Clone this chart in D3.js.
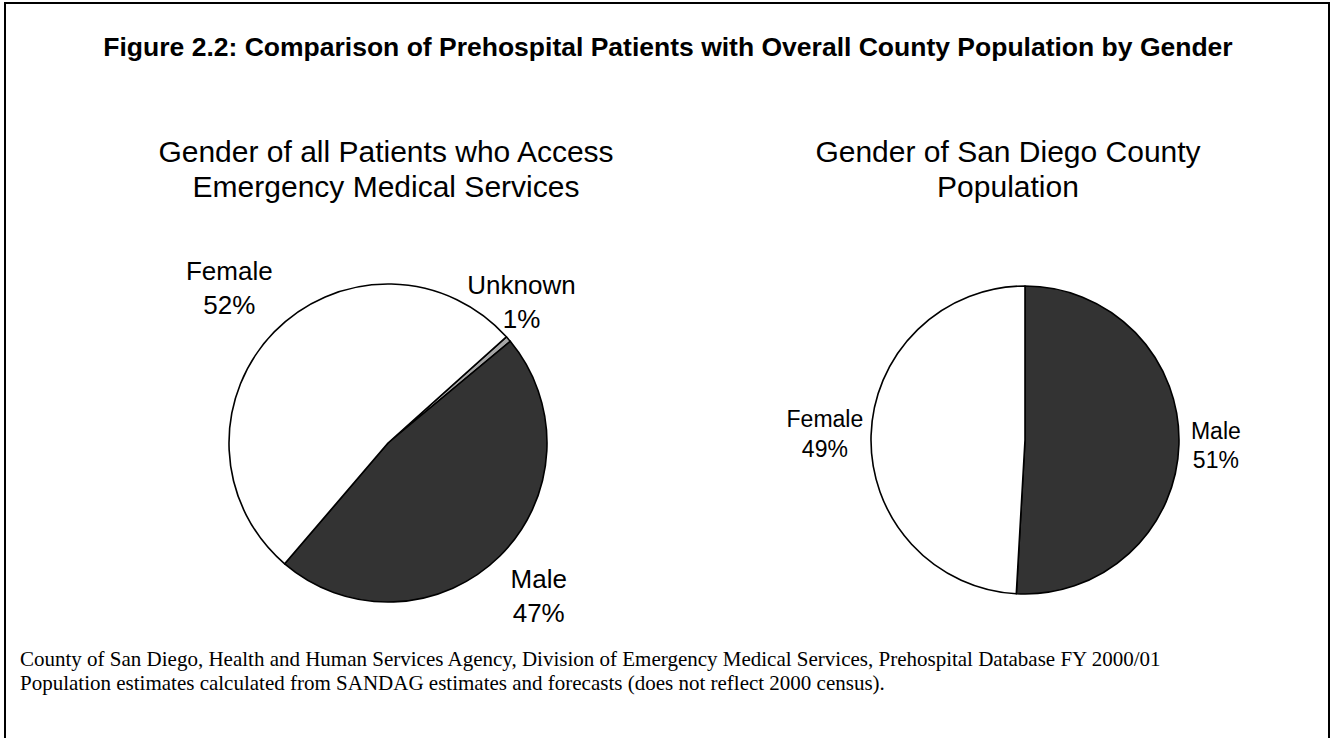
<!DOCTYPE html>
<html>
<head>
<meta charset="utf-8">
<script src="https://cdn.jsdelivr.net/npm/d3@7"></script>
<style>
  html, body { margin: 0; padding: 0; background: #fff; }
  svg { display: block; }
  .title { font-family: "Liberation Sans", Arial, sans-serif; font-weight: bold; font-size: 26.5px; }
  .subtitle { font-family: "Liberation Sans", Arial, sans-serif; font-size: 30px; }
  .slice-label { font-family: "Liberation Sans", Arial, sans-serif; }
  .note { font-family: "Liberation Serif", "Times New Roman", serif; font-size: 21px; }
</style>
</head>
<body>
<svg id="chart" width="1336" height="738"></svg>
<script>
// data
const patientCategories = ["Unknown", "Male", "Female"];
const patientValues = [0.6, 47.3, 52.1];

const countyCategories = ["Male", "Female"];
const countyValues = [50.9, 49.1];

const titleText = "Figure 2.2: Comparison of Prehospital Patients with Overall County Population by Gender";
const patientTitle = ["Gender of all Patients who Access", "Emergency Medical Services"];
const countyTitle = ["Gender of San Diego County", "Population"];
const notes = [
  "County of San Diego, Health and Human Services Agency, Division of Emergency Medical Services, Prehospital Database FY 2000/01",
  "Population estimates calculated from SANDAG estimates and forecasts (does not reflect 2000 census)."
];

const fillFor = { Female: "#ffffff", Male: "#333333", Unknown: "#a6a6a6" };

const svg = d3.select("#chart");
const width = +svg.attr("width");

// outer frame (bottom edge runs off the page)
svg.append("rect")
  .attr("x", 5).attr("y", 3)
  .attr("width", 1324).attr("height", 760)
  .attr("fill", "none")
  .attr("stroke", "#000")
  .attr("stroke-width", 2);

svg.append("text")
  .attr("class", "title")
  .attr("x", width / 2)
  .attr("y", 56)
  .attr("text-anchor", "middle")
  .text(titleText);

drawPie({
  cx: 388, cy: 443, r: 159,
  title: patientTitle, titleX: 386,
  categories: patientCategories, values: patientValues,
  startDeg: 48.1, fontSize: 26,
  labelK: { Unknown: 1.22, Male: 1.35, Female: 1.395 },
  labelTurn: { Unknown: -5.7 }
});

drawPie({
  cx: 1025, cy: 440, r: 154,
  title: countyTitle, titleX: 1008,
  categories: countyCategories, values: countyValues,
  startDeg: 0, fontSize: 23,
  labelK: { Male: 1.24, Female: 1.30 },
  labelTurn: {}
});

svg.append("g")
  .selectAll("text")
  .data(notes)
  .join("text")
  .attr("class", "note")
  .attr("x", 20)
  .attr("y", (d, i) => 666 + i * 24)
  .text(d => d);

function drawPie(cfg) {
  const data = cfg.categories.map((c, i) => ({ category: c, value: cfg.values[i] }));
  const start = cfg.startDeg * Math.PI / 180;

  const pie = d3.pie()
    .sort(null)
    .value(d => d.value)
    .startAngle(start)
    .endAngle(start + 2 * Math.PI);

  const arc = d3.arc().innerRadius(0).outerRadius(cfg.r);

  svg.append("g")
    .selectAll("text")
    .data(cfg.title)
    .join("text")
    .attr("class", "subtitle")
    .attr("x", cfg.titleX)
    .attr("y", (d, i) => 162 + i * 35)
    .attr("text-anchor", "middle")
    .text(d => d);

  const g = svg.append("g")
    .attr("transform", `translate(${cfg.cx},${cfg.cy})`);

  const arcs = pie(data);

  g.selectAll("path")
    .data(arcs)
    .join("path")
    .attr("d", arc)
    .attr("fill", d => fillFor[d.data.category])
    .attr("stroke", "#000")
    .attr("stroke-width", 1.6)
    .attr("stroke-linejoin", "round");

  const label = g.selectAll("text")
    .data(arcs)
    .join("text")
    .attr("class", "slice-label")
    .attr("text-anchor", "middle")
    .style("font-size", cfg.fontSize + "px")
    .attr("transform", d => {
      const k = cfg.r * cfg.labelK[d.data.category];
      const turn = (cfg.labelTurn[d.data.category] || 0) * Math.PI / 180;
      const a = (d.startAngle + d.endAngle) / 2 + turn;
      return `translate(${k * Math.sin(a)},${-k * Math.cos(a)})`;
    });

  label.append("tspan")
    .attr("x", 0)
    .attr("dy", "-0.3em")
    .text(d => d.data.category);

  label.append("tspan")
    .attr("x", 0)
    .attr("dy", "1.3em")
    .text(d => Math.round(d.data.value) + "%");
}
</script>
</body>
</html>
